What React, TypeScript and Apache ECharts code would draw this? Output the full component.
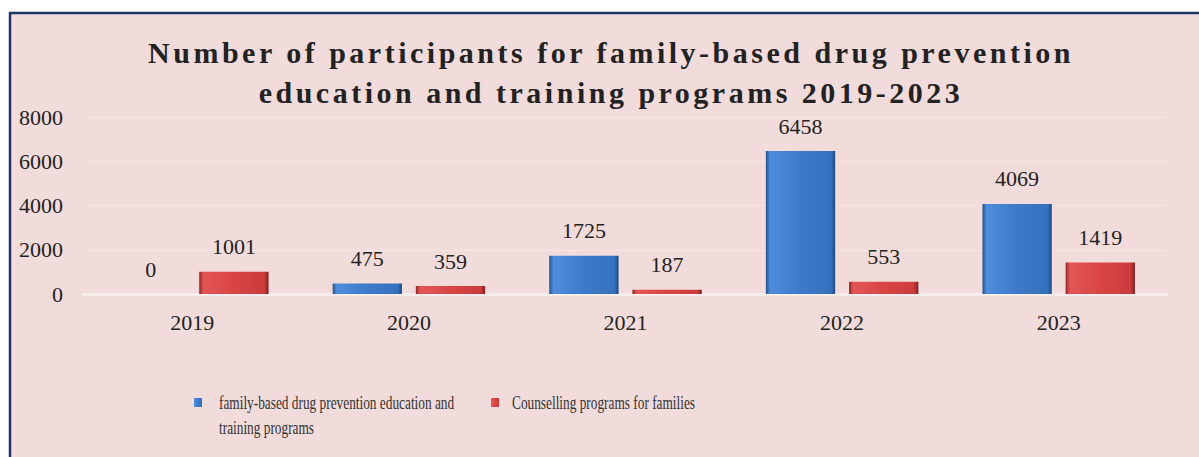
import React, { useEffect, useRef } from "react";
import * as echarts from "echarts";

const TITLE_LINES = [
  "Number of participants for family-based drug prevention",
  "education and training programs 2019-2023",
];
const categories = ["2019", "2020", "2021", "2022", "2023"];
const seriesNames = [
  "family-based drug prevention education and training programs",
  "Counselling programs for families",
];
const legendLines1 = ["family-based drug prevention education and", "training programs"];
const familyEducation = [0, 475, 1725, 6458, 4069];
const counselling = [1001, 359, 187, 553, 1419];
const yTicks = { min: 0, max: 8000, interval: 2000 };

const FONT = "'Liberation Serif', 'Times New Roman', serif";

const blueGrad = new echarts.graphic.LinearGradient(0, 0, 1, 0, [
  { offset: 0, color: "#24518c" },
  { offset: 0.06, color: "#4d8ddb" },
  { offset: 0.5, color: "#3d7bca" },
  { offset: 0.94, color: "#3471bd" },
  { offset: 1, color: "#1f4a80" },
]);
const redGrad = new echarts.graphic.LinearGradient(0, 0, 1, 0, [
  { offset: 0, color: "#8f2424" },
  { offset: 0.06, color: "#e35656" },
  { offset: 0.5, color: "#d94545" },
  { offset: 0.94, color: "#cc3c3c" },
  { offset: 1, color: "#7a1e1e" },
]);

export default function App() {
  const ref = useRef<HTMLDivElement>(null);
  useEffect(() => {
    if (!ref.current) return;
    const chart = echarts.init(ref.current, undefined, { renderer: "svg" });
    const labelStyle = {
      show: true,
      position: "top" as const,
      distance: 14,
      fontFamily: FONT,
      fontSize: 22,
      color: "#222",
    };
    const legendText = {
      fontFamily: FONT,
      fontSize: 18,
      lineHeight: 25,
      color: "#333",
    };
    const legendBase = {
      orient: "horizontal",
      padding: 0,
      itemWidth: 8,
      itemHeight: 9,
      selectedMode: false,
      icon: "rect",
    };
    chart.setOption({
      animation: false,
      backgroundColor: "#ffffff",
      graphic: [
        {
          type: "rect",
          shape: { x: 10, y: 13, width: 1300, height: 500 },
          style: { fill: "#f2dcdb" },
          z: -10,
          silent: true,
        },
        {
          type: "line",
          shape: { x1: 9, y1: 13, x2: 1300, y2: 13 },
          style: { stroke: "#1f3566", lineWidth: 2.5 },
          silent: true,
        },
        {
          type: "line",
          shape: { x1: 10, y1: 12, x2: 10, y2: 500 },
          style: { stroke: "#1f3566", lineWidth: 2.5 },
          silent: true,
        },
      ],
      title: {
        text: TITLE_LINES.join("\n"),
        left: 611,
        textAlign: "center",
        top: 32,
        padding: 0,
        textStyle: {
          fontFamily: FONT,
          fontWeight: "bold",
          fontSize: 30,
          lineHeight: 40,
          color: "#222",
        },
      },
      grid: { left: 84, right: 32, top: 117, bottom: 163 },
      legend: [
        {
          ...legendBase,
          left: 194,
          top: 365,
          data: [{ name: seriesNames[0], textStyle: { padding: [0, 0, 0, 12] } }],
          formatter: () => "\n" + legendLines1.join("\n"),
          textStyle: legendText,
        },
        {
          ...legendBase,
          left: 491,
          top: 390,
          data: [{ name: seriesNames[1], textStyle: { padding: [0, 0, 0, 8] } }],
          textStyle: legendText,
        },
      ],
      xAxis: {
        type: "category",
        data: categories,
        axisLine: { show: true, lineStyle: { color: "#f7eded", width: 3 } },
        axisTick: { show: false },
        axisLabel: {
          margin: 17,
          fontFamily: FONT,
          fontSize: 22,
          color: "#222",
        },
      },
      yAxis: {
        type: "value",
        min: yTicks.min,
        max: yTicks.max,
        interval: yTicks.interval,
        axisLine: { show: false },
        axisTick: { show: false },
        splitLine: { lineStyle: { color: "#f5e5e5", width: 1 } },
        axisLabel: {
          margin: 21,
          fontFamily: FONT,
          fontSize: 22,
          color: "#222",
          formatter: (v: number) => String(v),
        },
      },
      series: [
        {
          name: seriesNames[0],
          type: "bar",
          data: familyEducation,
          barWidth: "32%",
          barGap: "20%",
          itemStyle: { color: blueGrad },
          label: labelStyle,
        },
        {
          name: seriesNames[1],
          type: "bar",
          data: counselling,
          barWidth: "32%",
          barGap: "20%",
          itemStyle: { color: redGrad },
          label: labelStyle,
        },
      ],
    });
    const legendTexts = [...legendLines1, seriesNames[1]];
    ref.current.querySelectorAll("text").forEach((t) => {
      const el = t as SVGTextElement;
      const s = el.textContent || "";
      if (TITLE_LINES.includes(s)) el.style.letterSpacing = "3.5px";
      if (legendTexts.includes(s)) {
        const x = parseFloat(el.getAttribute("x") || "0") || 0;
        const prev = el.getAttribute("transform") || "";
        el.setAttribute(
          "transform",
          `${prev} translate(${x} 0) scale(0.74 1) translate(${-x} 0)`.trim()
        );
      }
    });
    return () => chart.dispose();
  }, []);
  return (
    <div
      ref={ref}
      style={{
        position: "absolute",
        left: 0,
        top: 0,
        width: 1199,
        height: 457,
        overflow: "hidden",
      }}
    />
  );
}
